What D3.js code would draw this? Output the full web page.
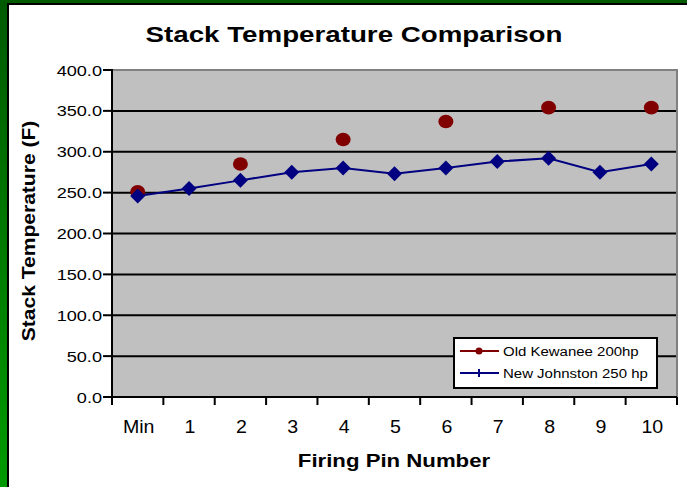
<!DOCTYPE html>
<html><head><meta charset="utf-8">
<script src="https://cdn.jsdelivr.net/npm/d3@7"></script>
<style>html,body{margin:0;padding:0;background:#fff;}svg{display:block;font-family:"Liberation Sans",Arial,sans-serif;}</style>
</head><body>
<script>
const categories = ["Min","1","2","3","4","5","6","7","8","9","10"];
const oldKewanee = [251, null, 285, null, 315, null, 337, null, 354, null, 354];
const newJohnston = [246, 255, 265, 275, 280, 273, 280, 288, 292, 275, 285];
const yTicks = [0,50,100,150,200,250,300,350,400];
const seriesNames = ["Old Kewanee 200hp","New Johnston 250 hp"];

const W=687,H=487;
const svg=d3.select("body").append("svg").attr("width",W).attr("height",H);
const defs=svg.append("defs");
const g=defs.append("linearGradient").attr("id","gr").attr("x1",0).attr("y1",0).attr("x2",0).attr("y2",1);
g.append("stop").attr("offset","0%").attr("stop-color","#005a00");
g.append("stop").attr("offset","100%").attr("stop-color","#009a00");
svg.append("rect").attr("x",0).attr("y",0).attr("width",W).attr("height",H).attr("fill","url(#gr)");
svg.append("rect").attr("x",8).attr("y",4).attr("width",W).attr("height",H).attr("fill","#fff").attr("stroke","#000").attr("stroke-width",2);

const L=112,R=677,T=70,B=397;
const x=d3.scaleBand().domain(categories).range([L,R]);
const y=d3.scaleLinear().domain([0,400]).range([B,T]);

// stretched text helper
function stext(parent,tx,ty,str,size,sx,anchor,weight,rot){
  const t=parent.append("text")
    .attr("transform",`translate(${tx},${ty})`+(rot?` rotate(${rot})`:"")+` scale(${sx},1)`)
    .attr("text-anchor",anchor||"middle").attr("font-size",size).attr("fill","#000")
    .text(str);
  if(weight) t.attr("font-weight",weight);
  return t;
}

svg.append("rect").attr("x",L).attr("y",T).attr("width",R-L).attr("height",B-T).attr("fill","#c0c0c0");
svg.append("g").selectAll("line").data(yTicks.filter(v=>v>0&&v<400)).join("line")
  .attr("x1",L).attr("x2",R).attr("y1",d=>y(d)).attr("y2",d=>y(d)).attr("stroke","#000").attr("stroke-width",2);
svg.append("path").attr("d",`M${L},${T}H${R}V${B}`).attr("fill","none").attr("stroke","#808080").attr("stroke-width",2);

// y axis
svg.append("line").attr("x1",L).attr("x2",L).attr("y1",T-1).attr("y2",B+8).attr("stroke","#000").attr("stroke-width",2);
svg.append("g").selectAll("line").data(yTicks).join("line")
  .attr("x1",L-9).attr("x2",L).attr("y1",d=>y(d)).attr("y2",d=>y(d)).attr("stroke","#000").attr("stroke-width",2);
const fmt=d3.format(".1f");
const yl=svg.append("g");
yTicks.forEach(v=>stext(yl,102,y(v)+5.5,fmt(v),15.5,1.17,"end"));

// x axis
svg.append("line").attr("x1",L-1).attr("x2",R).attr("y1",B).attr("y2",B).attr("stroke","#000").attr("stroke-width",2);
svg.append("g").selectAll("line").data(categories.map(c=>x(c)).concat([R])).join("line")
  .attr("x1",d=>d).attr("x2",d=>d).attr("y1",B).attr("y2",B+8).attr("stroke","#000").attr("stroke-width",2);
const cx=c=>x(c)+x.bandwidth()/2;
const xl=svg.append("g");
categories.forEach(c=>stext(xl,cx(c)+1,432.5,c,17.5,1.12,"middle"));

// blue line
const line=d3.line().x((d,i)=>cx(categories[i])).y(d=>y(d));
svg.append("path").attr("d",line(newJohnston)).attr("fill","none").attr("stroke","#000080").attr("stroke-width",2);
const diamond=(px,py,r)=>`M${px},${py-r}L${px+r},${py}L${px},${py+r}L${px-r},${py}Z`;
svg.append("g").selectAll("ellipse").data(oldKewanee.map((v,i)=>({v,c:categories[i]})).filter(d=>d.v!=null)).join("ellipse")
  .attr("cx",d=>cx(d.c)).attr("cy",d=>y(d.v)).attr("rx",7.5).attr("ry",6.8).attr("fill","#800000");
svg.append("g").selectAll("path").data(newJohnston.map((v,i)=>({v,c:categories[i]}))).join("path")
  .attr("d",d=>diamond(cx(d.c),y(d.v),7.5)).attr("fill","#000080");

// titles
stext(svg,354,42,"Stack Temperature Comparison",21.5,1.29,"middle","bold");
stext(svg,394,466.5,"Firing Pin Number",18.5,1.2,"middle","bold");
stext(svg,34.5,231,"Stack Temperature (F)",18,1.17,"middle","bold",-90);

// legend
const lg=svg.append("g");
lg.append("rect").attr("x",454).attr("y",338).attr("width",203).attr("height",50).attr("fill","#fff").attr("stroke","#000").attr("stroke-width",2);
const ly=[351,373];
const colors=["#800000","#000080"];
seriesNames.forEach((n,i)=>{
  lg.append("line").attr("x1",460).attr("x2",499).attr("y1",ly[i]).attr("y2",ly[i]).attr("stroke",colors[i]).attr("stroke-width",2);
  if(i===0) lg.append("circle").attr("cx",479).attr("cy",ly[i]).attr("r",3.5).attr("fill",colors[i]);
  else lg.append("line").attr("x1",479).attr("x2",479).attr("y1",ly[i]-4).attr("y2",ly[i]+4).attr("stroke",colors[i]).attr("stroke-width",2);
  stext(lg,503,ly[i]+4.7,n,13.5,1.11,"start");
});
</script>
</body></html>
